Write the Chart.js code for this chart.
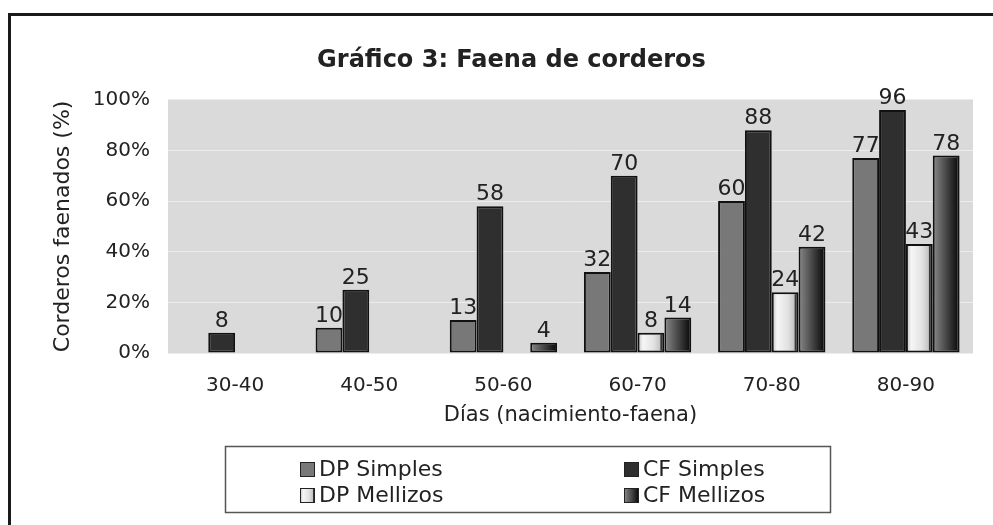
<!DOCTYPE html>
<html>
<head>
<meta charset="utf-8">
<script src="https://cdn.jsdelivr.net/npm/chart.js@4.4.0/dist/chart.umd.min.js"></script>
<style>
  body { margin: 0; background: #fff; }
  #frame { position: absolute; left: 8px; top: 13px; width: 990px; height: 520px;
           border-top: 3px solid #1a1a1a; border-left: 3px solid #1a1a1a; }
  #chart { position: absolute; left: 0; top: 0; }
</style>
</head>
<body>
<div id="frame"></div>
<canvas id="chart" width="993" height="525"></canvas>
<script>
const categories = ['30-40', '40-50', '50-60', '60-70', '70-80', '80-90'];
const dpSimples = [null, 10, 13, 32, 60, 77];
const cfSimples = [8, 25, 58, 70, 88, 96];
const dpMellizos = [null, null, null, 8, 24, 43];
const cfMellizos = [null, null, 4, 14, 42, 78];
const seriesNames = ['DP Simples', 'CF Simples', 'DP Mellizos', 'CF Mellizos'];
const yTicks = [0, 20, 40, 60, 80, 100];

const FONT = "'DejaVu Sans', sans-serif";

// fill for each series, built for a box at x..x+w
function makeFill(ctx, idx, x, w) {
  if (idx === 0) return '#787878';
  if (idx === 1) return '#2f2f2f';
  const g = ctx.createLinearGradient(x, 0, x + w, 0);
  if (idx === 2) {
    g.addColorStop(0, '#bdbdbd');
    g.addColorStop(0.2, '#f6f6f6');
    g.addColorStop(0.6, '#e2e2e2');
    g.addColorStop(0.84, '#c4c4c4');
    g.addColorStop(0.86, '#3a3a3a');
    g.addColorStop(1, '#2a2a2a');
  } else {
    g.addColorStop(0, '#9a9a9a');
    g.addColorStop(0.12, '#7a7a7a');
    g.addColorStop(0.6, '#3a3a3a');
    g.addColorStop(1, '#050505');
  }
  return g;
}

// plot background + gradients on bars
const plotBg = {
  id: 'plotBg',
  beforeDraw(chart) {
    const a = chart.chartArea, c = chart.ctx;
    c.save();
    c.fillStyle = '#dadada';
    c.fillRect(a.left, a.top, a.right - a.left, a.bottom - a.top);
    c.restore();
  },
  beforeDatasetsDraw(chart) {
    chart.data.datasets.forEach((ds, i) => {
      if (i < 2) return;
      chart.getDatasetMeta(i).data.forEach(el => {
        const x = el.x - el.width / 2;
        el.options = Object.assign({}, el.options, { backgroundColor: makeFill(chart.ctx, i, x, el.width) });
      });
    });
  }
};

// value labels above bars
const valueLabels = {
  id: 'valueLabels',
  afterDatasetsDraw(chart) {
    const c = chart.ctx;
    c.save();
    c.font = '22px ' + FONT;
    c.fillStyle = '#222';
    c.textAlign = 'center';
    c.textBaseline = 'alphabetic';
    chart.data.datasets.forEach((ds, i) => {
      chart.getDatasetMeta(i).data.forEach((el, j) => {
        const v = ds.data[j];
        if (v === null) return;
        c.fillText(String(v), el.x, el.y - 6);
      });
    });
    c.restore();
  }
};

// boxed 2x2 legend under the axis
const boxLegend = {
  id: 'boxLegend',
  afterDraw(chart) {
    const c = chart.ctx;
    c.save();
    c.strokeStyle = '#555';
    c.lineWidth = 1.5;
    c.strokeRect(225.5, 446.5, 605, 66);
    const cols = [300, 624], rows = [469, 495];
    c.font = '22px ' + FONT;
    c.textBaseline = 'middle';
    chart.data.datasets.forEach((ds, i) => {
      const x = cols[i % 2], y = rows[Math.floor(i / 2)];
      c.fillStyle = makeFill(c, i, x, 15);
      c.fillRect(x, y - 7, 15, 15);
      c.strokeStyle = '#222';
      c.lineWidth = 1;
      c.strokeRect(x + 0.5, y - 6.5, 14, 14);
      c.fillStyle = '#222';
      c.fillText(ds.label, x + 19, y + 1);
    });
    c.restore();
  }
};

const chart = new Chart(document.getElementById('chart'), {
  type: 'bar',
  data: {
    labels: categories,
    datasets: [dpSimples, cfSimples, dpMellizos, cfMellizos].map((d, i) => ({
      label: seriesNames[i],
      data: d,
      backgroundColor: makeFill(null, Math.min(i, 1), 0, 0),
      borderColor: '#111',
      borderWidth: 2,
      borderSkipped: false,
      categoryPercentage: 0.8,
      barPercentage: 1.0
    }))
  },
  options: {
    responsive: false,
    animation: false,
    layout: { padding: { left: 50, right: 20, top: 0, bottom: 97 } },
    plugins: {
      legend: { display: false },
      tooltip: { enabled: false },
      title: {
        display: true,
        text: 'Gráfico 3: Faena de corderos',
        color: '#222',
        font: { family: FONT, size: 24, weight: 'bold' },
        padding: { top: 46, bottom: 25 }
      }
    },
    scales: {
      x: {
        grid: { display: false },
        border: { display: false },
        ticks: { color: '#222', font: { family: FONT, size: 20 }, padding: 13 },
        title: {
          display: true, text: 'Días (nacimiento-faena)', color: '#222',
          font: { family: FONT, size: 21 }, padding: { top: 0, bottom: 0 }
        },
        afterFit(s) { s.height = 75; }
      },
      y: {
        min: 0, max: 100,
        afterBuildTicks(s) { s.ticks = yTicks.map(v => ({ value: v })); },
        grid: { color: '#ececec', lineWidth: 1, drawTicks: false },
        border: { display: false },
        ticks: { color: '#222', font: { family: FONT, size: 20 }, padding: 18, callback: v => v + '%' },
        title: {
          display: true, text: 'Corderos faenados (%)', color: '#222',
          font: { family: FONT, size: 22 }, padding: { top: 0, bottom: 0 }
        },
        afterFit(s) { s.width = 118; }
      }
    }
  },
  plugins: [plotBg, valueLabels, boxLegend]
});
</script>
</body>
</html>
